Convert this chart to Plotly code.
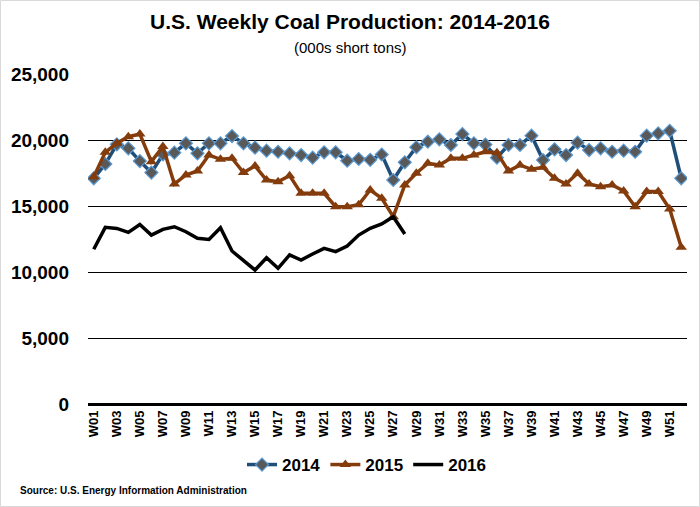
import plotly.graph_objects as go

weeks = [f"W{i:02d}" for i in range(1, 53)]

prod_2014 = [17100, 18180, 19670, 19370, 18400, 17530, 18900, 19040, 19750, 18990,
             19750, 19750, 20300, 19750, 19420, 19190, 19110, 18990, 18860, 18660,
             19070, 19070, 18430, 18560, 18500, 18900, 16970, 18310, 19450, 19870,
             20050, 19620, 20450, 19750, 19650, 18660, 19620, 19620, 20330, 18480,
             19290, 18860, 19800, 19240, 19370, 19110, 19190, 19110, 20330, 20500,
             20700, 17100]

prod_2015 = [17220, 19070, 19750, 20250, 20450, 18360, 19500, 16670, 17350, 17650,
             18860, 18540, 18620, 17530, 18030, 16970, 16840, 17300, 15960, 15960,
             15960, 14950, 14950, 15100, 16210, 15580, 14190, 16590, 17480, 18230,
             18100, 18610, 18610, 18860, 19110, 19040, 17650, 18100, 17780, 17930,
             17100, 16670, 17480, 16670, 16460, 16590, 16140, 14950, 16090, 16090,
             14770, 11870]

prod_2016 = [11720, 13380, 13300, 13000, 13600, 12800, 13230, 13430, 13050, 12550,
             12470, 13360, 11590, 10910, 10150, 11080, 10280, 11290, 10910, 11360,
             11790, 11540, 11970, 12800, 13310, 13640, 14190, 12880]

y_ticks = [0, 5000, 10000, 15000, 20000, 25000]

FONT = "Liberation Sans"

# plot area in pixels
L, R, T, B = 88, 13, 74, 103
pw = 700 - L - R
ph = 507 - T - B


def px_x(x):
    return (x - L) / pw


def px_y(y):
    return (507 - B - y) / ph


fig = go.Figure()
fig.add_trace(go.Scatter(
    x=weeks, y=prod_2014, name="<b>2014</b>", mode="lines+markers",
    line=dict(color="#1F4E79", width=3.5),
    marker=dict(symbol="diamond", size=10, color="#595959",
                line=dict(color="#5B9BD5", width=1.2))
))
fig.add_trace(go.Scatter(
    x=weeks, y=prod_2015, name="<b>2015</b>", mode="lines+markers",
    line=dict(color="#843C0C", width=3.5),
    marker=dict(symbol="triangle-up", size=10, color="#843C0C")
))
fig.add_trace(go.Scatter(
    x=weeks[:len(prod_2016)], y=prod_2016, name="<b>2016</b>", mode="lines",
    line=dict(color="black", width=3.5)
))

fig.update_layout(
    width=700, height=507,
    paper_bgcolor="white", plot_bgcolor="white",
    margin=dict(l=L, r=R, t=T, b=B, autoexpand=False),
    font=dict(family=FONT, color="black"),
    title=dict(text="<b>U.S. Weekly Coal Production: 2014-2016</b>",
               x=0.5, xanchor="center", y=1 - 22 / 507, yanchor="middle",
               font=dict(size=21, family=FONT)),
    xaxis=dict(
        type="category", categoryorder="array", categoryarray=weeks,
        range=[-0.5, 51.5],
        tickmode="array", tickvals=weeks[::2],
        ticktext=[f"<b>{w}</b>" for w in weeks[::2]],
        tickangle=-90, tickfont=dict(size=13, family=FONT),
        ticklabelstandoff=3,
        showgrid=False, showline=False, ticks="",
    ),
    yaxis=dict(
        range=[0, 25000], tickvals=y_ticks,
        ticktext=[f"<b>{v:,}</b>" for v in y_ticks],
        tickfont=dict(size=19, family=FONT),
        ticklabelstandoff=18,
        showgrid=True, gridcolor="black", gridwidth=1,
        zeroline=True, zerolinecolor="black", zerolinewidth=3,
        showline=False, ticks="",
    ),
    legend=dict(orientation="h", x=px_x(367), xanchor="center", y=px_y(465), yanchor="middle",
                font=dict(size=17, family=FONT), itemwidth=30, traceorder="normal"),
    annotations=[
        dict(text="(000s short tons)", x=px_x(350), y=px_y(48), xref="paper", yref="paper",
             yanchor="middle", showarrow=False, font=dict(size=15, family=FONT)),
        dict(text="<b>Source: U.S. Energy Information Administration</b>",
             x=px_x(18), y=px_y(490), xref="paper", yref="paper", xanchor="left",
             yanchor="middle", showarrow=False, font=dict(size=10, family=FONT)),
    ],
    shapes=[dict(type="rect", xref="paper", yref="paper",
                 x0=px_x(0.5), x1=px_x(699.5), y0=px_y(506.5), y1=px_y(0.5),
                 line=dict(color="#D9D9D9", width=1))],
)

fig.write_html("out.html", config={"displayModeBar": False},
               post_script="document.body.style.margin='0';")
